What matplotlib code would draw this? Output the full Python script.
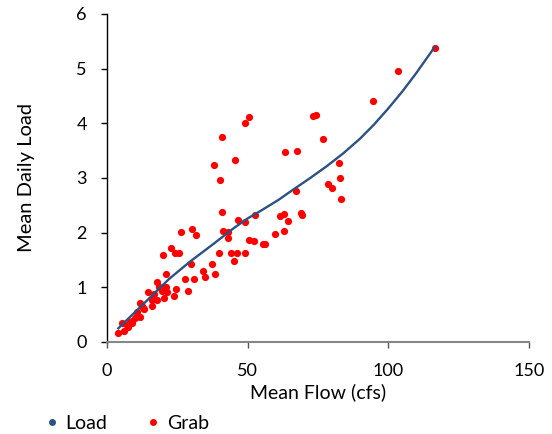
import matplotlib.pyplot as plt
from matplotlib.lines import Line2D

plt.rcParams["font.family"] = ["Lato", "DejaVu Sans"]

# fitted load curve
flow_line = [4, 10, 16, 22, 29.5, 38, 45, 50, 55, 61, 66, 72, 78, 84, 90, 95, 100, 105, 110, 116.6]
load_line = [0.25, 0.55, 0.85, 1.15, 1.47, 1.80, 2.08, 2.26, 2.41, 2.60, 2.78, 2.99, 3.21, 3.45,
             3.72, 3.98, 4.27, 4.58, 4.92, 5.40]

# grab samples
grab_flow = [116.8, 103.6, 94.7, 73.4, 74.3, 76.9, 63.4, 67.7, 82.6, 83.0, 78.4, 80.0, 83.3,
             67.1, 61.5, 63.0, 64.2, 69.1, 69.5, 59.8, 63.0, 55.6, 56.1,
             50.6, 49.1, 41.0, 45.6, 38.2, 40.0, 41.0, 46.5, 49.1, 52.6,
             41.4, 43.1, 43.0, 26.3, 30.3, 31.6, 50.3, 52.3,
             19.9, 22.6, 24.0, 25.5, 39.9, 44.1, 46.2, 49.1, 45.1,
             29.9, 37.2, 34.2, 34.8, 38.3, 27.8, 30.9, 28.9,
             21.1, 24.5, 23.7, 17.9, 20.0, 20.9, 19.4, 21.2, 20.3, 18.6,
             14.6, 16.7, 17.7, 16.1, 15.9, 11.6, 13.2, 12.3, 12.7,
             10.8, 9.8, 9.0, 8.2, 7.2, 8.8, 5.3, 4.0, 6.0, 7.6, 10.5, 11.7]
grab_load = [5.37, 4.96, 4.41, 4.13, 4.15, 3.71, 3.47, 3.49, 3.27, 2.99, 2.89, 2.81, 2.62,
             2.77, 2.31, 2.34, 2.21, 2.35, 2.32, 1.97, 2.03, 1.79, 1.79,
             4.12, 4.00, 3.74, 3.33, 3.23, 2.96, 2.38, 2.23, 2.19, 2.33,
             2.03, 2.01, 1.91, 2.02, 2.07, 1.95, 1.86, 1.84,
             1.59, 1.71, 1.62, 1.62, 1.62, 1.63, 1.62, 1.62, 1.49,
             1.43, 1.42, 1.29, 1.19, 1.24, 1.16, 1.16, 0.93,
             1.24, 0.97, 0.85, 1.09, 1.00, 1.01, 0.94, 0.92, 0.81, 1.01,
             0.92, 0.87, 0.77, 0.76, 0.66, 0.72, 0.60, 0.66, 0.62,
             0.48, 0.43, 0.38, 0.36, 0.31, 0.34, 0.35, 0.17, 0.21, 0.28, 0.55, 0.46]

navy = "#2B5283"
red = "#FF0000"

fig = plt.figure(figsize=(5.52, 4.34), dpi=100)
ax = fig.add_axes([0.194, 0.212, 0.764, 0.756])

ax.plot(grab_flow, grab_load, "o", color=red, markersize=5.2, markeredgewidth=0, zorder=2)
ax.plot(flow_line, load_line, "-", color=navy, linewidth=1.7, zorder=3)

ax.set_xlim(0, 150)
ax.set_ylim(0, 6)
ax.set_xticks([0, 50, 100, 150])
ax.set_yticks(range(7))

for s in ["top", "right"]:
    ax.spines[s].set_visible(False)
ax.spines["left"].set_color("black")
ax.spines["bottom"].set_color("#868686")
ax.spines["left"].set_linewidth(1.0)
ax.spines["bottom"].set_linewidth(1.5)
ax.tick_params(axis="y", direction="out", length=4, width=1, colors="black", labelsize=13, pad=10.5)
ax.tick_params(axis="x", direction="out", length=4, width=1, color="#555555", labelsize=13, pad=11)

ax.set_xlabel("Mean Flow (cfs)", fontsize=14, labelpad=3)
ax.set_ylabel("Mean Daily Load", fontsize=14.5, labelpad=30)

handles = [
    Line2D([], [], linestyle="none", marker="o", color=navy, markersize=4),
    Line2D([], [], linestyle="none", marker="o", color=red, markersize=4),
]
fig.legend(handles, ["Load", "Grab"], loc="lower left", bbox_to_anchor=(0.045, -0.035),
           ncol=2, frameon=False, fontsize=14, handletextpad=0.2, columnspacing=1.85,
           handlelength=1.0)

fig.savefig("out.png", dpi=100)
